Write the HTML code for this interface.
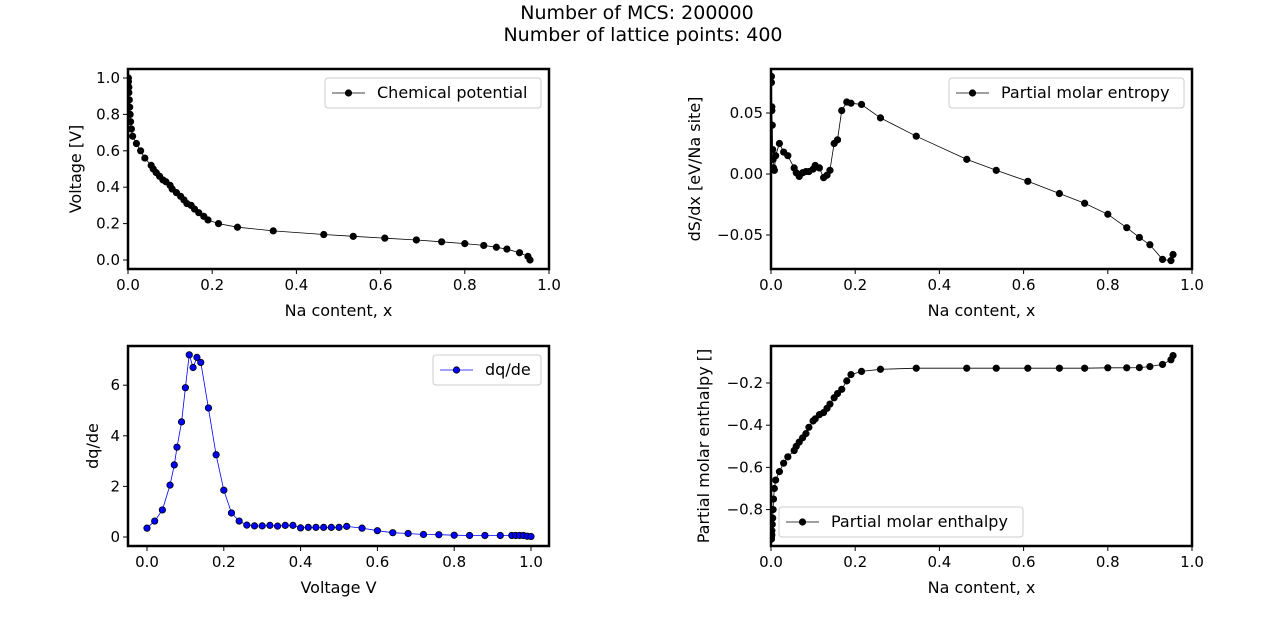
<!DOCTYPE html>
<html><head><meta charset="utf-8"><style>
body{margin:0;background:#fff;width:1280px;height:617px;overflow:hidden}
svg{display:block;font-family:"DejaVu Sans","Liberation Sans",sans-serif}
</style></head><body>
<svg id="fig" width="1280" height="617" viewBox="0 0 1280 617">
<text x="637" y="19" font-size="19" text-anchor="middle">Number of MCS: 200000</text>
<text x="643" y="41" font-size="19" text-anchor="middle">Number of lattice points: 400</text>
</svg>
<script>
const naX=[0.001,0.001,0.002,0.002,0.003,0.004,0.005,0.006,0.008,0.011,0.02,0.03,0.04,0.055,0.06,0.067,0.075,0.083,0.09,0.1,0.105,0.115,0.125,0.133,0.14,0.15,0.158,0.168,0.18,0.19,0.215,0.26,0.345,0.465,0.535,0.61,0.685,0.745,0.80,0.845,0.875,0.90,0.93,0.95,0.955];
const chemPot=[1.0,0.98,0.95,0.92,0.88,0.84,0.80,0.76,0.72,0.68,0.64,0.60,0.56,0.52,0.50,0.48,0.46,0.44,0.43,0.41,0.39,0.37,0.35,0.33,0.31,0.30,0.28,0.26,0.24,0.22,0.20,0.18,0.16,0.14,0.13,0.12,0.11,0.10,0.09,0.08,0.07,0.06,0.04,0.02,0.0];
const entropy=[0.080,0.075,0.055,0.052,0.040,0.020,0.012,0.005,0.003,0.015,0.025,0.018,0.015,0.005,0.001,-0.002,0.001,0.002,0.002,0.004,0.007,0.005,-0.003,-0.001,0.003,0.025,0.028,0.052,0.059,0.058,0.057,0.046,0.031,0.012,0.003,-0.006,-0.016,-0.024,-0.033,-0.044,-0.052,-0.058,-0.070,-0.071,-0.066];
const enthalpy=[-0.94,-0.93,-0.92,-0.90,-0.87,-0.84,-0.80,-0.75,-0.70,-0.66,-0.62,-0.58,-0.55,-0.52,-0.50,-0.48,-0.46,-0.44,-0.41,-0.38,-0.37,-0.35,-0.34,-0.32,-0.30,-0.27,-0.25,-0.23,-0.19,-0.16,-0.145,-0.135,-0.13,-0.13,-0.13,-0.13,-0.13,-0.13,-0.128,-0.128,-0.127,-0.122,-0.112,-0.09,-0.07];
const voltV=[0.0,0.02,0.04,0.06,0.071,0.078,0.09,0.10,0.11,0.12,0.13,0.14,0.16,0.18,0.20,0.22,0.24,0.26,0.28,0.30,0.32,0.34,0.36,0.38,0.40,0.42,0.44,0.46,0.48,0.50,0.52,0.56,0.60,0.64,0.68,0.72,0.76,0.80,0.84,0.88,0.92,0.95,0.96,0.97,0.98,0.99,1.0];
const dqde=[0.35,0.63,1.07,2.05,2.85,3.55,4.55,5.9,7.2,6.7,7.1,6.9,5.1,3.25,1.85,0.95,0.63,0.47,0.44,0.44,0.46,0.43,0.46,0.46,0.36,0.38,0.38,0.38,0.38,0.38,0.42,0.35,0.25,0.17,0.14,0.10,0.09,0.07,0.06,0.06,0.06,0.06,0.06,0.06,0.06,0.03,0.02];
const xTicks01=["0.0","0.2","0.4","0.6","0.8","1.0"];
const chemTicks=["0.0","0.2","0.4","0.6","0.8","1.0"];
const entTicks=["−0.05","0.00","0.05"];
const dqTicks=["0","2","4","6"];
const enthTicks=["−0.8","−0.6","−0.4","−0.2"];

const NS="http://www.w3.org/2000/svg";
const fig=document.getElementById('fig');
function mk(tag,attrs,parent,txt){const e=document.createElementNS(NS,tag);for(const k in attrs)e.setAttribute(k,attrs[k]);if(txt!==undefined)e.textContent=txt;(parent||fig).appendChild(e);return e;}

function panel(o){
  const g=mk('g',{});
  
  
  const sx=v=>o.x0px+(v-o.xmin)*o.xs, sy=v=>o.y0px-(v-o.ymin)*o.ys;
  o.xt.forEach(t=>{const v=parseFloat(t);const px=sx(v);
    mk('line',{x1:px,x2:px,y1:o.b,y2:o.b+5,stroke:'#000','stroke-width':1},g);
    const tl=mk('text',{x:px,y:o.b+21,'font-size':15,'text-anchor':'middle'},g,t);
    
    });
  o.yt.forEach(t=>{const v=parseFloat(t.replace('−','-'));const py=sy(v);
    mk('line',{x1:o.l-5,x2:o.l,y1:py,y2:py,stroke:'#000','stroke-width':1},g);
    const tl=mk('text',{x:o.l-8,y:py+5,'font-size':15,'text-anchor':'end'},g,t);
    
    });
  const xl=mk('text',{x:(o.l+o.r)/2,y:o.b+47,'font-size':16,'text-anchor':'middle'},g,o.xlabel);
  
  
  const yx=o.ylx, yy=(o.t+o.b)/2;
  const yl=mk('text',{x:yx,y:yy,'font-size':16,'text-anchor':'middle',transform:`rotate(-90 ${yx} ${yy})`},g,o.ylabel);
  
  
  const cp=mk('clipPath',{id:'c'+o.name},g);mk('rect',{x:o.l,y:o.t,width:o.r-o.l,height:o.b-o.t},cp);
  const pg=mk('g',{'clip-path':`url(#c${o.name})`},g);
  const pts=o.xs_.map((v,i)=>sx(v).toFixed(1)+','+sy(o.ys_[i]).toFixed(1)).join(' ');
  const pl=mk('polyline',{points:pts,fill:'none',stroke:o.lc,'stroke-width':0.8},pg);
  
  
  o.xs_.forEach((v,i)=>{const c=mk('circle',{cx:sx(v),cy:sy(o.ys_[i]),r:3.2,fill:o.fc,stroke:'#000','stroke-width':0.8},pg);
    
    });
  mk('rect',{x:o.l,y:o.t,width:o.r-o.l,height:o.b-o.t,fill:'none',stroke:'#000','stroke-width':2.5},g);
  const L=o.leg;
  const lg=mk('g',{},g);
  
  
  mk('rect',{x:L.x,y:L.y,width:L.w,height:30,rx:3,fill:'#fff',stroke:'#ccc','stroke-width':1},lg);
  mk('line',{x1:L.x+7,x2:L.x+40,y1:L.y+15,y2:L.y+15,stroke:o.lc,'stroke-width':0.8},lg);
  mk('circle',{cx:L.x+23.5,cy:L.y+15,r:3.2,fill:o.fc,stroke:'#000','stroke-width':0.8},lg);
  mk('text',{x:L.x+52,y:L.y+20,'font-size':16},lg,o.legText);
}
panel({name:'chemical-potential-plot',l:128,r:549,t:69,b:269,x0px:128,xmin:0,xs:421,y0px:260,ymin:0,ys:182,
  xt:xTicks01,yt:chemTicks,xlabel:'Na content, x',ylabel:'Voltage [V]',ylx:81,xs_:naX,ys_:chemPot,lc:'#000',fc:'#000',
  leg:{x:325,y:78,w:216},legText:'Chemical potential'});
panel({name:'partial-molar-entropy-plot',l:771,r:1192,t:69,b:269,x0px:771,xmin:0,xs:421,y0px:174,ymin:0,ys:1220,
  xt:xTicks01,yt:entTicks,xlabel:'Na content, x',ylabel:'dS/dx [eV/Na site]',ylx:700,xs_:naX,ys_:entropy,lc:'#000',fc:'#000',
  leg:{x:949,y:78,w:235},legText:'Partial molar entropy'});
panel({name:'dqde-plot',l:128,r:549,t:346,b:546,x0px:147,xmin:0,xs:384,y0px:537,ymin:0,ys:25.3,
  xt:xTicks01,yt:dqTicks,xlabel:'Voltage V',ylabel:'dq/de',ylx:98,xs_:voltV,ys_:dqde,lc:'#0000ff',fc:'#0000ff',
  leg:{x:433,y:355,w:108},legText:'dq/de'});
panel({name:'partial-molar-enthalpy-plot',l:771,r:1192,t:346,b:546,x0px:771,xmin:0,xs:421,y0px:383,ymin:-0.2,ys:211,
  xt:xTicks01,yt:enthTicks,xlabel:'Na content, x',ylabel:'Partial molar enthalpy []',ylx:709,xs_:naX,ys_:enthalpy,lc:'#000',fc:'#000',
  leg:{x:779,y:507,w:244},legText:'Partial molar enthalpy'});
</script>
</body></html>
